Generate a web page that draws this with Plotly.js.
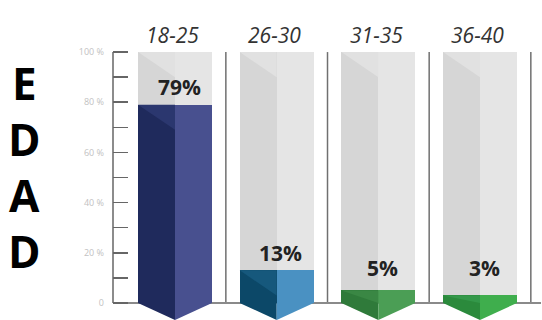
<!DOCTYPE html>
<html>
<head>
<meta charset="utf-8">
<script src="https://cdn.plot.ly/plotly-3.0.1.min.js"></script>
<style>html,body{margin:0;padding:0;background:#fff;}#chart{width:542px;height:320px;}</style>
</head>
<body>
<div id="chart"></div>
<script>
// ---- data ----
var categories = ['18-25', '26-30', '31-35', '36-40'];
var values = [79, 13, 5, 3];
var valueLabels = ['79%', '13%', '5%', '3%'];
var sideTitle = ['E', 'D', 'A', 'D'];
var yTickVals = [0, 20, 40, 60, 80, 100];
var yTickText = ['0', '20 %', '40 %', '60 %', '80 %', '100 %'];
var yMinorVals = [10, 30, 50, 70, 90];

// ---- styles ----
var darkColors = ['#1f2a5c', '#0c4868', '#2f7a3a', '#2b8a3c'];
var lightColors = ['#48508f', '#4a91c2', '#4b9e55', '#3fae4d'];
var midColors = ['#2b376f', '#16587c', '#3a8744', '#34984a'];
var grayDark = '#d6d6d6', grayLight = '#e5e5e5', grayTop = '#e1e1e1';
var hw = 0.364;          // half bar width in x units
var tipY = -6.8;         // bottom of chevron
var yRange = [-6.8, 108];

var xs = categories.map(function (c, i) { return i; });
var traces = [];

// background columns (two halves)
traces.push({type: 'bar', x: xs, y: categories.map(function () { return 100; }),
  width: hw, offset: -hw, marker: {color: grayDark, line: {width: 0}}, hoverinfo: 'skip', showlegend: false});
traces.push({type: 'bar', x: xs, y: categories.map(function () { return 100; }),
  width: hw, offset: 0, marker: {color: grayLight, line: {width: 0}}, hoverinfo: 'skip', showlegend: false});
// value bars (two halves)
traces.push({type: 'bar', x: xs, y: values, width: hw, offset: -hw,
  marker: {color: darkColors, line: {width: 0}}, hoverinfo: 'skip', showlegend: false});
traces.push({type: 'bar', x: xs, y: values, width: hw, offset: 0,
  marker: {color: lightColors, line: {width: 0}}, hoverinfo: 'skip', showlegend: false});

function poly(px, py, color) {
  traces.push({type: 'scatter', mode: 'lines', x: px, y: py, fill: 'toself',
    fillcolor: color, line: {width: 0, color: color}, hoverinfo: 'skip', showlegend: false});
}
xs.forEach(function (i, k) {
  var v = values[k];
  // light top triangle on gray column
  poly([i - hw, i, i, i - hw], [100, 100, 90, 100], grayTop);
  // lighter bevel triangle at the top of the coloured bar
  var d = Math.min(10, v);
  poly([i - hw, i, i, i - hw], [v, v, v - d, v], midColors[k]);
  // chevron bottom
  poly([i - hw, i, i, i - hw], [0, 0, tipY, 0], darkColors[k]);
  poly([i, i + hw, i, i], [0, 0, tipY, 0], lightColors[k]);
});

var shapes = [];
// y axis line from 0 to 100
shapes.push({type: 'line', xref: 'paper', yref: 'y', x0: 0, x1: 0, y0: 0, y1: 100,
  line: {color: '#666', width: 1.5}});
// separators between columns
xs.forEach(function (i) {
  shapes.push({type: 'line', xref: 'x', yref: 'y', x0: i + 0.5, x1: i + 0.5, y0: 0, y1: 100,
    line: {color: '#707070', width: 1.5}, layer: 'below'});
});

var annotations = [];
categories.forEach(function (c, i) {
  annotations.push({x: i - 0.02, y: 107, xref: 'x', yref: 'y', text: c, showarrow: false,
    font: {family: 'Open Sans', size: 21, color: '#333', style: 'italic'}, xanchor: 'center', yanchor: 'middle'});
  annotations.push({x: i + 0.04, y: Math.max(values[i], 7) + 7, xref: 'x', yref: 'y', text: valueLabels[i],
    showarrow: false, font: {family: 'Open Sans', size: 21, color: '#222', weight: 'bold'},
    xanchor: 'center', yanchor: 'middle'});
});
sideTitle.forEach(function (ch, k) {
  annotations.push({x: -0.206, y: 87.5 - 22.2 * k, xref: 'paper', yref: 'y', text: ch, showarrow: false,
    font: {family: 'Open Sans', size: 44, color: '#000', weight: 'bold'}, xanchor: 'center', yanchor: 'middle'});
});

var layout = {
  width: 542, height: 320,
  margin: {l: 113, r: 1, t: 32, b: 0},
  paper_bgcolor: '#fff', plot_bgcolor: '#fff',
  barmode: 'overlay', bargap: 0,
  showlegend: false,
  xaxis: {range: [-0.61, 3.6], showgrid: false, zeroline: false, showline: false,
    showticklabels: false, ticks: '', fixedrange: true},
  yaxis: {range: yRange, showgrid: false, zeroline: true, zerolinecolor: '#8a8a8a', zerolinewidth: 1.5,
    showline: false, tickmode: 'array', tickvals: yTickVals, ticktext: yTickText,
    ticks: 'inside', ticklen: 15, tickwidth: 1.5, tickcolor: '#666',
    minor: {tickmode: 'array', tickvals: yMinorVals, ticks: 'inside', ticklen: 15, tickwidth: 1.5, tickcolor: '#666'},
    ticklabelstandoff: 8,
    tickfont: {family: 'Open Sans', size: 9, color: '#c2c2c2'}, fixedrange: true},
  shapes: shapes,
  annotations: annotations
};

Plotly.newPlot('chart', traces, layout, {staticPlot: true, displayModeBar: false});
</script>
</body>
</html>
